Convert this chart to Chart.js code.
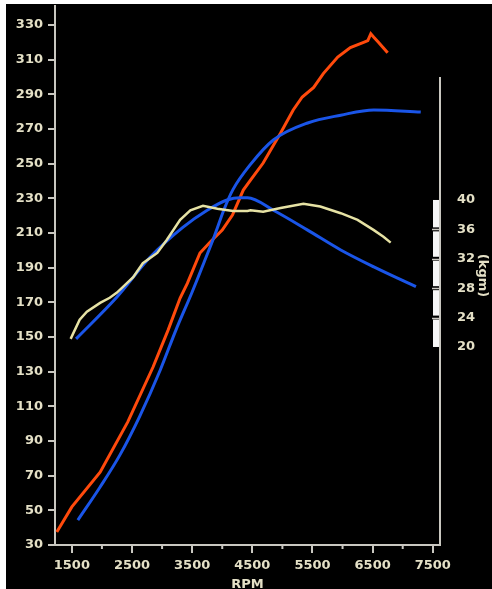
<!DOCTYPE html>
<html>
<head>
<meta charset="utf-8">
<script src="https://cdn.jsdelivr.net/npm/chart.js"></script>
<style>
    html, body { margin: 0; padding: 0; background: #fff; }
    #frame { position: absolute; left: 6px; top: 4px; width: 486px; height: 585px; background: #000; }
</style>
</head>
<body>
<div id="frame"><canvas id="dyno-chart" width="486" height="585"></canvas></div>
<script>
// --- Axis ticks ---
const rpmTicks = [1500, 2500, 3500, 4500, 5500, 6500, 7500];
const rpmMinorTicks = [2000, 3000, 4000, 5000, 6000, 7000];
const hpTicks = [30, 50, 70, 90, 110, 130, 150, 170, 190, 210, 230, 250, 270, 290, 310, 330];
const kgmTicks = [20, 24, 28, 32, 36, 40];
const kgmAxisTopHp = 300; // right axis line starts at this height of the hp scale

// --- Measured power (hp) ---
const powerRpm = [1250, 1500, 1970, 2430, 2850, 3100, 3300, 3420, 3630, 3800, 4000, 4170, 4350, 4470, 4680, 4970,
    5180, 5330, 5520, 5680, 5920, 6130, 6350, 6420, 6470, 6520, 6600, 6750];
const powerHp = [37.5, 52, 72, 101, 132.7, 154, 172.5, 181, 198.5, 204.8, 211.7, 220.4, 234.8, 240.6, 250.4, 267.7,
    281, 288.5, 294, 302, 311.5, 317, 320, 321, 325, 323, 320, 314];

// --- Reference power curve (hp) ---
const refPowerRpm = [1600, 1970, 2300, 2630, 2970, 3230, 3500, 3700, 3870, 4030, 4180, 4470, 4850, 5420, 5970, 6520, 7300];
const refPowerHp = [44.4, 63.5, 82, 104.4, 131, 154, 176, 193.3, 208.3, 223.6, 235.2, 249.6, 263.7, 273.5, 278, 281, 279.8];

// --- Measured torque (kgm) ---
const torqueRpm = [1480, 1630, 1750, 1970, 2130, 2250, 2520, 2680, 2920, 3080, 3300, 3470, 3680, 3920, 4180, 4420,
    4470, 4680, 4970, 5350, 5630, 5970, 6250, 6520, 6680, 6800];
const torqueKgm = [21.1, 23.7, 24.8, 26.0, 26.7, 27.4, 29.5, 31.4, 32.8, 34.6, 37.3, 38.6, 39.2, 38.8, 38.5, 38.5,
    38.6, 38.4, 38.9, 39.5, 39.1, 38.2, 37.3, 35.9, 35.0, 34.2];

// --- Reference torque curve (kgm) ---
const refTorqueRpm = [1570, 2250, 2800, 3350, 3750, 4080, 4300, 4420, 4850, 5420, 5970, 6520, 7220];
const refTorqueKgm = [21.1, 26.8, 32.2, 36.3, 38.6, 40.0, 40.3, 40.3, 38.6, 35.9, 33.2, 30.9, 28.2];

const textColor = '#e4e0c6';
const axisColor = '#c9c7c0';
const tickFont = {family: '"DejaVu Sans", sans-serif', size: 13, weight: 'bold'};

function toPoints(xs, ys) {
    return xs.map((x, i) => ({x: x, y: ys[i]}));
}

function setTicks(values) {
    return scale => { scale.ticks = values.map(v => ({value: v})); };
}

// right torque scale with white blocks, and the small rpm ticks
const dynoAxisPlugin = {
    id: 'dynoAxis',
    afterDraw(chart) {
        const ctx = chart.ctx;
        const area = chart.chartArea;
        const x = chart.scales.x;
        const y = chart.scales.y;
        const y2 = chart.scales.y2;
        ctx.save();

        ctx.strokeStyle = axisColor;
        ctx.lineWidth = 2;
        ctx.beginPath();
        ctx.moveTo(area.right, y.getPixelForValue(kgmAxisTopHp));
        ctx.lineTo(area.right, area.bottom);
        ctx.stroke();

        const last = kgmTicks.length - 2;
        for (let i = 0; i <= last; i++) {
            const top = y2.getPixelForValue(kgmTicks[i + 1]) + (i === last ? 0 : 2);
            const bottom = y2.getPixelForValue(kgmTicks[i]) - (i === 0 ? 0 : 2);
            ctx.fillStyle = '#f6f6f6';
            ctx.fillRect(area.right - 7, top, 6, bottom - top);
        }
        ctx.lineWidth = 1.5;
        kgmTicks.slice(1, -1).forEach(v => {
            const py = Math.round(y2.getPixelForValue(v)) + 0.5;
            ctx.beginPath();
            ctx.moveTo(area.right - 8, py);
            ctx.lineTo(area.right, py);
            ctx.stroke();
        });

        ctx.lineWidth = 2;
        rpmMinorTicks.forEach(v => {
            const px = x.getPixelForValue(v);
            ctx.beginPath();
            ctx.moveTo(px, area.bottom);
            ctx.lineTo(px, area.bottom + 4);
            ctx.stroke();
        });
        ctx.restore();
    }
};

const ctx = document.getElementById('dyno-chart').getContext('2d');
const dynoChart = new Chart(ctx, {
    type: 'line',
    data: {
        datasets: [
            {
                label: 'Torque',
                data: toPoints(torqueRpm, torqueKgm),
                yAxisID: 'y2',
                borderColor: '#e6e2a4',
                borderWidth: 2.5,
                tension: 0
            },
            {
                label: 'Torque (ref)',
                data: toPoints(refTorqueRpm, refTorqueKgm),
                yAxisID: 'y2',
                borderColor: '#1a55e8',
                borderWidth: 3,
                cubicInterpolationMode: 'monotone'
            },
            {
                label: 'Power (ref)',
                data: toPoints(refPowerRpm, refPowerHp),
                yAxisID: 'y',
                borderColor: '#1a55e8',
                borderWidth: 3,
                cubicInterpolationMode: 'monotone'
            },
            {
                label: 'Power',
                data: toPoints(powerRpm, powerHp),
                yAxisID: 'y',
                borderColor: '#ff4a0c',
                borderWidth: 3,
                tension: 0
            }
        ]
    },
    options: {
        responsive: false,
        animation: false,
        devicePixelRatio: 1,
        layout: {padding: {top: 2, left: 0, right: 0, bottom: 0}},
        elements: {point: {radius: 0}},
        plugins: {legend: {display: false}, tooltip: {enabled: false}},
        scales: {
            x: {
                type: 'linear',
                min: 1220,
                max: 7620,
                afterBuildTicks: setTicks(rpmTicks),
                afterFit: s => { s.height = 44; s.paddingLeft = 0; s.paddingRight = 0; },
                border: {display: true, color: axisColor, width: 2},
                grid: {drawOnChartArea: false, color: axisColor, tickLength: 8, lineWidth: 2},
                ticks: {color: textColor, font: tickFont, padding: 5, maxRotation: 0, autoSkip: false, callback: v => String(v)},
                title: {display: true, text: 'RPM', color: textColor, font: {...tickFont, lineHeight: 1}, padding: {top: 0, bottom: -2}}
            },
            y: {
                type: 'linear',
                position: 'left',
                min: 30,
                max: 341,
                afterBuildTicks: setTicks(hpTicks),
                afterFit: s => { s.width = 49; s.paddingTop = 0; s.paddingBottom = 0; },
                border: {display: true, color: axisColor, width: 2},
                grid: {drawOnChartArea: false, color: axisColor, tickLength: 7, lineWidth: 2},
                ticks: {color: textColor, font: tickFont, padding: 5, callback: v => String(v)}
            },
            y2: {
                type: 'linear',
                position: 'right',
                min: -6.94,
                max: 66.39,
                afterBuildTicks: setTicks(kgmTicks),
                afterFit: s => { s.width = 52; s.paddingTop = 0; s.paddingBottom = 0; },
                border: {display: false},
                grid: {display: false},
                ticks: {color: textColor, font: tickFont, padding: 9, callback: v => String(v)},
                title: {display: true, text: '(kgm)', color: textColor, font: tickFont, padding: 2}
            }
        }
    },
    plugins: [dynoAxisPlugin]
});
</script>
</body>
</html>
